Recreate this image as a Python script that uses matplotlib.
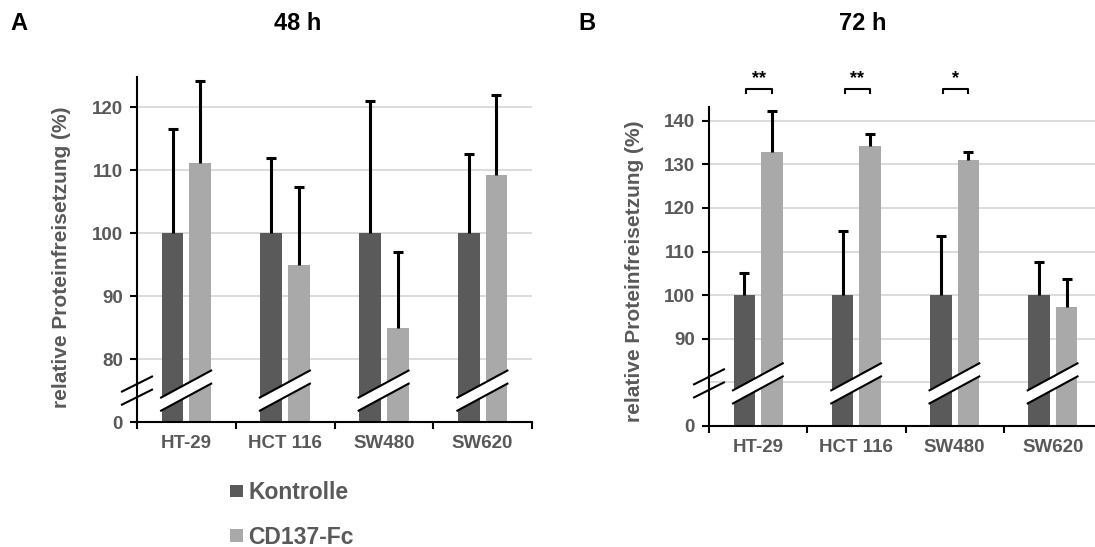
import numpy as np
import matplotlib.pyplot as plt
from matplotlib.transforms import blended_transform_factory
from matplotlib.patches import Polygon

plt.rcParams['font.family'] = ['Liberation Sans', 'DejaVu Sans']
plt.rcParams['font.weight'] = 'bold'

lines = ['HT-29', 'HCT 116', 'SW480', 'SW620']
series = ['Kontrolle', 'CD137-Fc']

# 48 h
ctrl_48 = [100, 100, 100, 100]
ctrl_48_err = [16.5, 12.0, 21.0, 12.6]
cd_48 = [111.1, 94.9, 85.0, 109.3]
cd_48_err = [13.1, 12.4, 12.0, 12.7]

# 72 h
ctrl_72 = [100, 100, 100, 100]
ctrl_72_err = [5.0, 14.8, 13.5, 7.7]
cd_72 = [132.9, 134.2, 131.0, 97.3]
cd_72_err = [9.4, 2.8, 1.8, 6.5]
stars_72 = ['**', '**', '*', '']

DARK = '#5a5a5a'
LIGHT = '#a9a9a9'
GREY_TXT = '#595959'

W, H = 1095, 547
fig = plt.figure(figsize=(W / 100, H / 100), dpi=100)


def panel(rect, ctrl, ctrl_err, cd, cd_err, ylim, yticks, ylabels, grid, brk):
    ax = fig.add_axes(rect)
    x = np.arange(len(lines))
    off, bw = 0.14, 0.22
    b1 = ax.bar(x - off, ctrl, bw, color=DARK, zorder=2, label=series[0])
    b2 = ax.bar(x + off, cd, bw, color=LIGHT, zorder=2, label=series[1])
    # upper error bars only
    for xs, ys, es in [(x - off, ctrl, ctrl_err), (x + off, cd, cd_err)]:
        _, caps, _ = ax.errorbar(xs, ys, yerr=[np.zeros(4), es], fmt='none',
                                 ecolor='black', elinewidth=2.2, capsize=3.5,
                                 capthick=2.2, zorder=3)
        caps[0].set_visible(False)
    for g in grid:
        ax.axhline(g, color='#d9d9d9', lw=1.3, zorder=1)
    ax.set_xlim(-0.5, 3.5)
    ax.set_ylim(*ylim)
    ax.set_yticks(yticks)
    ax.set_yticklabels(ylabels)
    ax.set_xticks(np.arange(-0.5, 4, 1))
    ax.set_xticklabels([])
    ax.set_xticks(x, minor=True)
    ax.set_xticklabels(lines, minor=True)
    ax.tick_params(axis='x', which='minor', length=0, pad=9, labelsize=13.5, labelcolor=GREY_TXT)
    ax.tick_params(axis='x', which='major', length=5, width=1.5, direction='out')
    ax.tick_params(axis='y', length=5, width=1.5, pad=5, labelsize=13.5, labelcolor=GREY_TXT)
    for s in ['top', 'right']:
        ax.spines[s].set_visible(False)
    for s in ['left', 'bottom']:
        ax.spines[s].set_linewidth(1.5)

    # break marks
    hpx = rect[3] * H
    tr = blended_transform_factory(ax.transData, ax.transAxes)
    yu, yl = brk
    rise = 28 / hpx
    for xc in x:
        x0, x1 = xc - 0.265, xc + 0.26
        poly = Polygon([(x0, yl - rise / 2), (x1, yl + rise / 2),
                        (x1, yu + rise / 2), (x0, yu - rise / 2)],
                       closed=True, facecolor='white', edgecolor='none',
                       transform=tr, zorder=4)
        ax.add_patch(poly)
        for yc in (yu, yl):
            ax.plot([x0, x1], [yc - rise / 2, yc + rise / 2], color='black',
                    lw=1.5, transform=tr, zorder=5, solid_capstyle='butt')
    arise = 15 / hpx
    for yc in (yu, yl):
        ax.plot([-0.5 - 0.152, -0.5 + 0.152], [yc - arise / 2, yc + arise / 2],
                color='black', lw=1.5, transform=tr, zorder=5, clip_on=False)
    return ax, b1, b2


axA, b1, b2 = panel([137 / W, 1 - 422 / H, 395 / W, 345 / H],
                    ctrl_48, ctrl_48_err, cd_48, cd_48_err,
                    (70, 124.8), [70, 80, 90, 100, 110, 120],
                    ['0', '80', '90', '100', '110', '120'],
                    [80, 90, 100, 110, 120], (0.11, 0.072))

axB, _, _ = panel([709 / W, 1 - 426 / H, 393 / W, 319.3 / H],
                  ctrl_72, ctrl_72_err, cd_72, cd_72_err,
                  (70, 143.2), [70, 90, 100, 110, 120, 130, 140],
                  ['0', '90', '100', '110', '120', '130', '140'],
                  [80, 90, 100, 110, 120, 130, 140], (0.154, 0.113))

# significance brackets
for i, s in enumerate(stars_72):
    if not s:
        continue
    xa, xb = i - 0.12, i + 0.14
    axB.plot([xa, xa, xb, xb], [146.3, 147.2, 147.2, 146.3], color='black',
             lw=1.5, clip_on=False)
    axB.text(i + 0.01, 147.7, s, ha='center', va='bottom', fontsize=13,
             color='black', clip_on=False)

for ax, xpx, ypx in [(axA, 62, 257), (axB, 634, 271)]:
    fig.text(xpx / W, 1 - ypx / H, 'relative Proteinfreisetzung (%)', rotation=90,
             ha='center', va='center', fontsize=15, color=GREY_TXT)

fig.text(298 / W, 1 - 24 / H, '48 h', ha='center', va='center', fontsize=17)
fig.text(863 / W, 1 - 24 / H, '72 h', ha='center', va='center', fontsize=17)
fig.text(10 / W, 1 - 24 / H, 'A', ha='left', va='center', fontsize=17)
fig.text(578 / W, 1 - 24 / H, 'B', ha='left', va='center', fontsize=17)

leg = fig.legend(handles=[b1, b2], labels=series, loc='upper left',
                 bbox_to_anchor=(230 / W, 1 - 481 / H), frameon=False,
                 fontsize=16.5, handlelength=0.55, handleheight=0.45,
                 handletextpad=0.25, labelspacing=0.95, borderpad=0,
                 borderaxespad=0)
for t in leg.get_texts():
    t.set_color(GREY_TXT)

fig.savefig('out.png', dpi=100)
